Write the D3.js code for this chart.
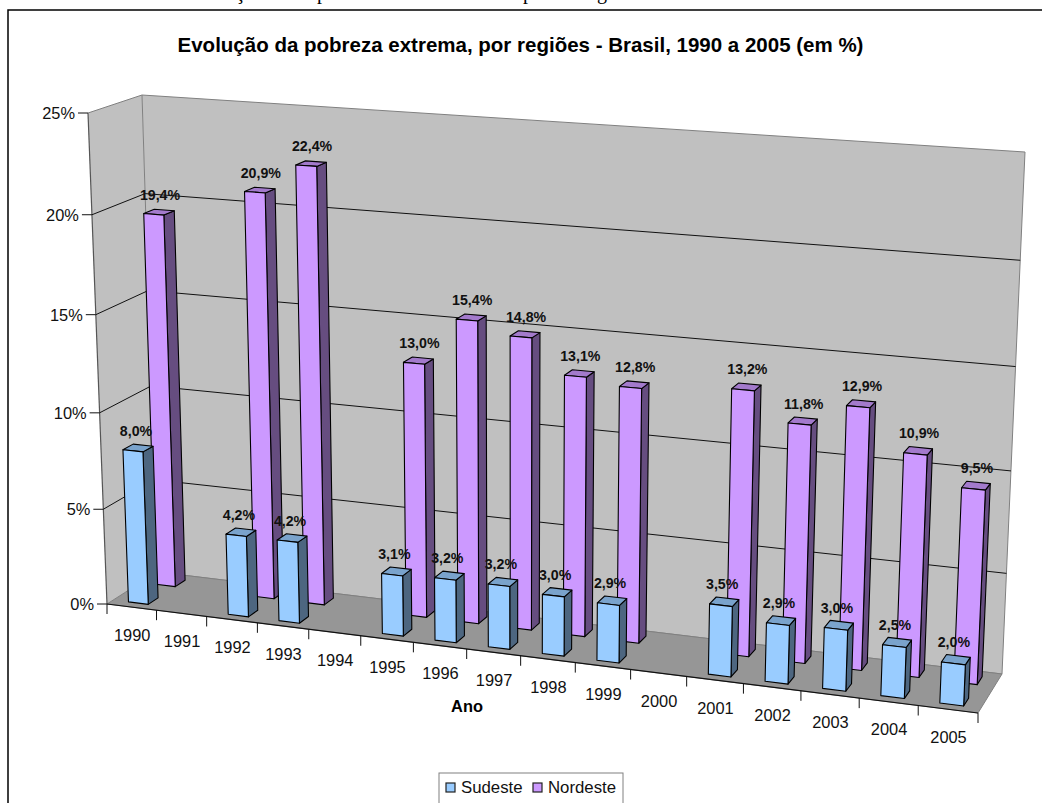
<!DOCTYPE html>
<html lang="pt">
<head>
<meta charset="utf-8">
<title>Evolução da pobreza extrema</title>
<script src="https://cdn.jsdelivr.net/npm/d3@7"></script>
<style>
  html, body { margin: 0; padding: 0; background: #fff; overflow: hidden; }
  svg { display: block; font-family: "Liberation Sans", Arial, sans-serif; }
</style>
</head>
<body>
<svg id="chart" width="1042" height="803"></svg>
<script>
// Poverty rates by region, in percent; null marks years without a survey.
const years = [1990,1991,1992,1993,1994,1995,1996,1997,1998,1999,2000,2001,2002,2003,2004,2005];
const sudeste = [8.0,null,4.2,4.2,null,3.1,3.2,3.2,3.0,2.9,null,3.5,2.9,3.0,2.5,2.0];
const nordeste = [19.4,null,20.9,22.4,null,13.0,15.4,14.8,13.1,12.8,null,13.2,11.8,12.9,10.9,9.5];
const valueTicks = [0,5,10,15,20,25];

const svg = d3.select("#chart");

// Corners of the 3D box on screen: front and back planes.
const frontQuad = [[107,604],[978,713],[1001,173],[88,113]];
const backQuad  = [[157,572],[1002,674],[1025,152],[142,95]];

// Projective map from the unit square to a quadrilateral.
function squareToQuad(q) {
  const [[x0,y0],[x1,y1],[x2,y2],[x3,y3]] = q;
  const dx1 = x1-x2, dx2 = x3-x2, sx = x0-x1+x2-x3;
  const dy1 = y1-y2, dy2 = y3-y2, sy = y0-y1+y2-y3;
  const den = dx1*dy2-dx2*dy1;
  const g = (sx*dy2-dx2*sy)/den, h = (dx1*sy-sx*dy1)/den;
  const a = x1-x0+g*x1, b = x3-x0+h*x3, c = x0;
  const d = y1-y0+g*y1, e = y3-y0+h*y3, f = y0;
  return (u,v) => {
    const w = g*u+h*v+1;
    return [(a*u+b*v+c)/w, (d*u+e*v+f)/w];
  };
}
const front = squareToQuad(frontQuad), back = squareToQuad(backQuad);

const xBand = d3.scaleBand().domain(years).range([0,1]);
const yVal = d3.scaleLinear().domain([0,25]).range([0,1]);

// u: along the years, v: up the value axis, d: depth from front (0) to back (1).
function project(u, v, d) {
  const p = front(u,v), q = back(u,v);
  return [p[0]+(q[0]-p[0])*d, p[1]+(q[1]-p[1])*d];
}
const path = pts => "M" + pts.map(p => p[0].toFixed(2)+","+p[1].toFixed(2)).join("L") + "Z";
const line = (a,b) => `M${a[0].toFixed(2)},${a[1].toFixed(2)}L${b[0].toFixed(2)},${b[1].toFixed(2)}`;

// Tails of the running page text above the frame, cut by the page edge.
[["ç",240],["p",322],["p",528],["g",602]].forEach(([ch,x]) => {
  svg.append("text").attr("x",x).attr("y",-1).attr("text-anchor","middle")
    .attr("font-family","'Liberation Serif', serif").attr("font-size",20).attr("fill","#000").text(ch);
});

// Outer frame runs off the right and bottom of the page.
svg.append("rect").attr("x",8).attr("y",10).attr("width",1060).attr("height",820)
  .attr("fill","#fff").attr("stroke","#000").attr("stroke-width",1.5);

svg.append("text").attr("x",520.5).attr("y",52).attr("text-anchor","middle")
  .attr("font-size",20.5).attr("font-weight","bold")
  .text("Evolução da pobreza extrema, por regiões - Brasil, 1990 a 2005 (em %)");

const box = svg.append("g");
// Side wall, back wall, floor
box.append("path").attr("d",path([project(0,0,0),project(0,0,1),project(0,1,1),project(0,1,0)]))
  .attr("fill","#c0c0c0");
box.append("path").attr("d",path([project(0,0,1),project(1,0,1),project(1,1,1),project(0,1,1)]))
  .attr("fill","#c0c0c0").attr("stroke","#808080").attr("stroke-width",1);
box.append("path").attr("d",path([project(0,0,0),project(1,0,0),project(1,0,1),project(0,0,1)]))
  .attr("fill","#969696").attr("stroke","#808080").attr("stroke-width",1);
box.append("path").attr("d",line(project(0,0,0),project(0,1,0))).attr("stroke","#555").attr("stroke-width",1.2);
box.append("path").attr("d",line(project(0,1,0),project(0,1,1))).attr("stroke","#808080");

// Gridlines wrap from the left wall onto the back wall.
valueTicks.forEach(t => {
  if (t === 0 || t === 25) return;
  const v = yVal(t);
  box.append("path").attr("fill","none").attr("stroke","#111").attr("stroke-width",1)
    .attr("d",`M${project(0,v,0).map(n=>n.toFixed(2))}L${project(0,v,1).map(n=>n.toFixed(2))}L${project(1,v,1).map(n=>n.toFixed(2))}`);
});

// Value axis ticks and labels
valueTicks.forEach(t => {
  const p = project(0,yVal(t),0);
  box.append("path").attr("d",`M${p[0]-10},${p[1]}L${p[0]},${p[1]}`).attr("stroke","#111");
  box.append("text").attr("x",p[0]-13).attr("y",p[1]+6).attr("text-anchor","end")
    .attr("font-size",16.4).attr("fill","#111").text(t+"%");
});

// Year axis along the front edge of the floor
box.append("path").attr("d",line(project(0,0,0),project(1,0,0))).attr("stroke","#111").attr("stroke-width",1.2);
d3.range(0,years.length+1).forEach(i => {
  const p = project(i/years.length,0,0);
  box.append("path").attr("d",`M${p[0]},${p[1]}L${p[0]},${p[1]+10}`).attr("stroke","#111");
});
years.forEach(y => {
  const p = project(xBand(y)+xBand.bandwidth()/2,0,0);
  box.append("text").attr("x",p[0]+0.5).attr("y",p[1]+33.5).attr("text-anchor","middle")
    .attr("font-size",16.4).attr("fill","#111").text(y);
});
svg.append("text").attr("x",467).attr("y",712).attr("text-anchor","middle")
  .attr("font-size",16.4).attr("font-weight","bold").text("Ano");

// One box-shaped bar: front, side and top faces.
function drawBar(g, year, value, d0, d1, colors) {
  const bw = xBand.bandwidth();
  const u0 = xBand(year)+bw*0.31, u1 = xBand(year)+bw*0.71;
  const v = yVal(value);
  g.append("path").attr("d",path([project(u1,0,d0),project(u1,0,d1),project(u1,v,d1),project(u1,v,d0)])).attr("fill",colors.side);
  g.append("path").attr("d",path([project(u0,v,d0),project(u1,v,d0),project(u1,v,d1),project(u0,v,d1)])).attr("fill",colors.top);
  g.append("path").attr("d",path([project(u0,0,d0),project(u1,0,d0),project(u1,v,d0),project(u0,v,d0)])).attr("fill",colors.front);
  g.selectAll("path").attr("stroke","#000").attr("stroke-width",1.1).attr("stroke-linejoin","round");
}

const series = [
  {name:"Nordeste", values:nordeste, d0:0.675, d1:0.875, dx:1, colors:{front:"#cc99ff",top:"#a37acc",side:"#664d80"}},
  {name:"Sudeste",  values:sudeste,  d0:0.125, d1:0.325, dx:-2, colors:{front:"#99ccff",top:"#7aa3cc",side:"#4d6680"}}
];
const fmt = v => v.toFixed(1).replace(".",",")+"%";
// Back row first so the front row overlaps it.
const labels = [];
series.forEach(s => {
  years.forEach((y,i) => {
    if (s.values[i] === null) return;
    drawBar(svg.append("g"), y, s.values[i], s.d0, s.d1, s.colors);
    const p = project(xBand(y)+xBand.bandwidth()*0.51,yVal(s.values[i]),(s.d0+s.d1)/2);
    labels.push({x:p[0]+s.dx, y:p[1], text:fmt(s.values[i])});
  });
});
svg.append("g").selectAll("text").data(labels).join("text")
  .attr("x",d=>d.x).attr("y",d=>d.y-12.5).attr("text-anchor","middle")
  .attr("font-size",14.2).attr("font-weight","bold").attr("fill","#111").text(d=>d.text);

// Legend
const lg = svg.append("g");
lg.append("rect").attr("x",439).attr("y",773).attr("width",184).attr("height",45).attr("fill","#fff").attr("stroke","#808080");
[["Sudeste","#99ccff",446,461],["Nordeste","#cc99ff",533,548]].forEach(([name,c,rx,tx]) => {
  lg.append("rect").attr("x",rx).attr("y",783).attr("width",9).attr("height",9).attr("fill",c).attr("stroke","#222").attr("stroke-width",1.2);
  lg.append("text").attr("x",tx).attr("y",792.5).attr("font-size",16.8).attr("fill","#111").text(name);
});
</script>
</body>
</html>
